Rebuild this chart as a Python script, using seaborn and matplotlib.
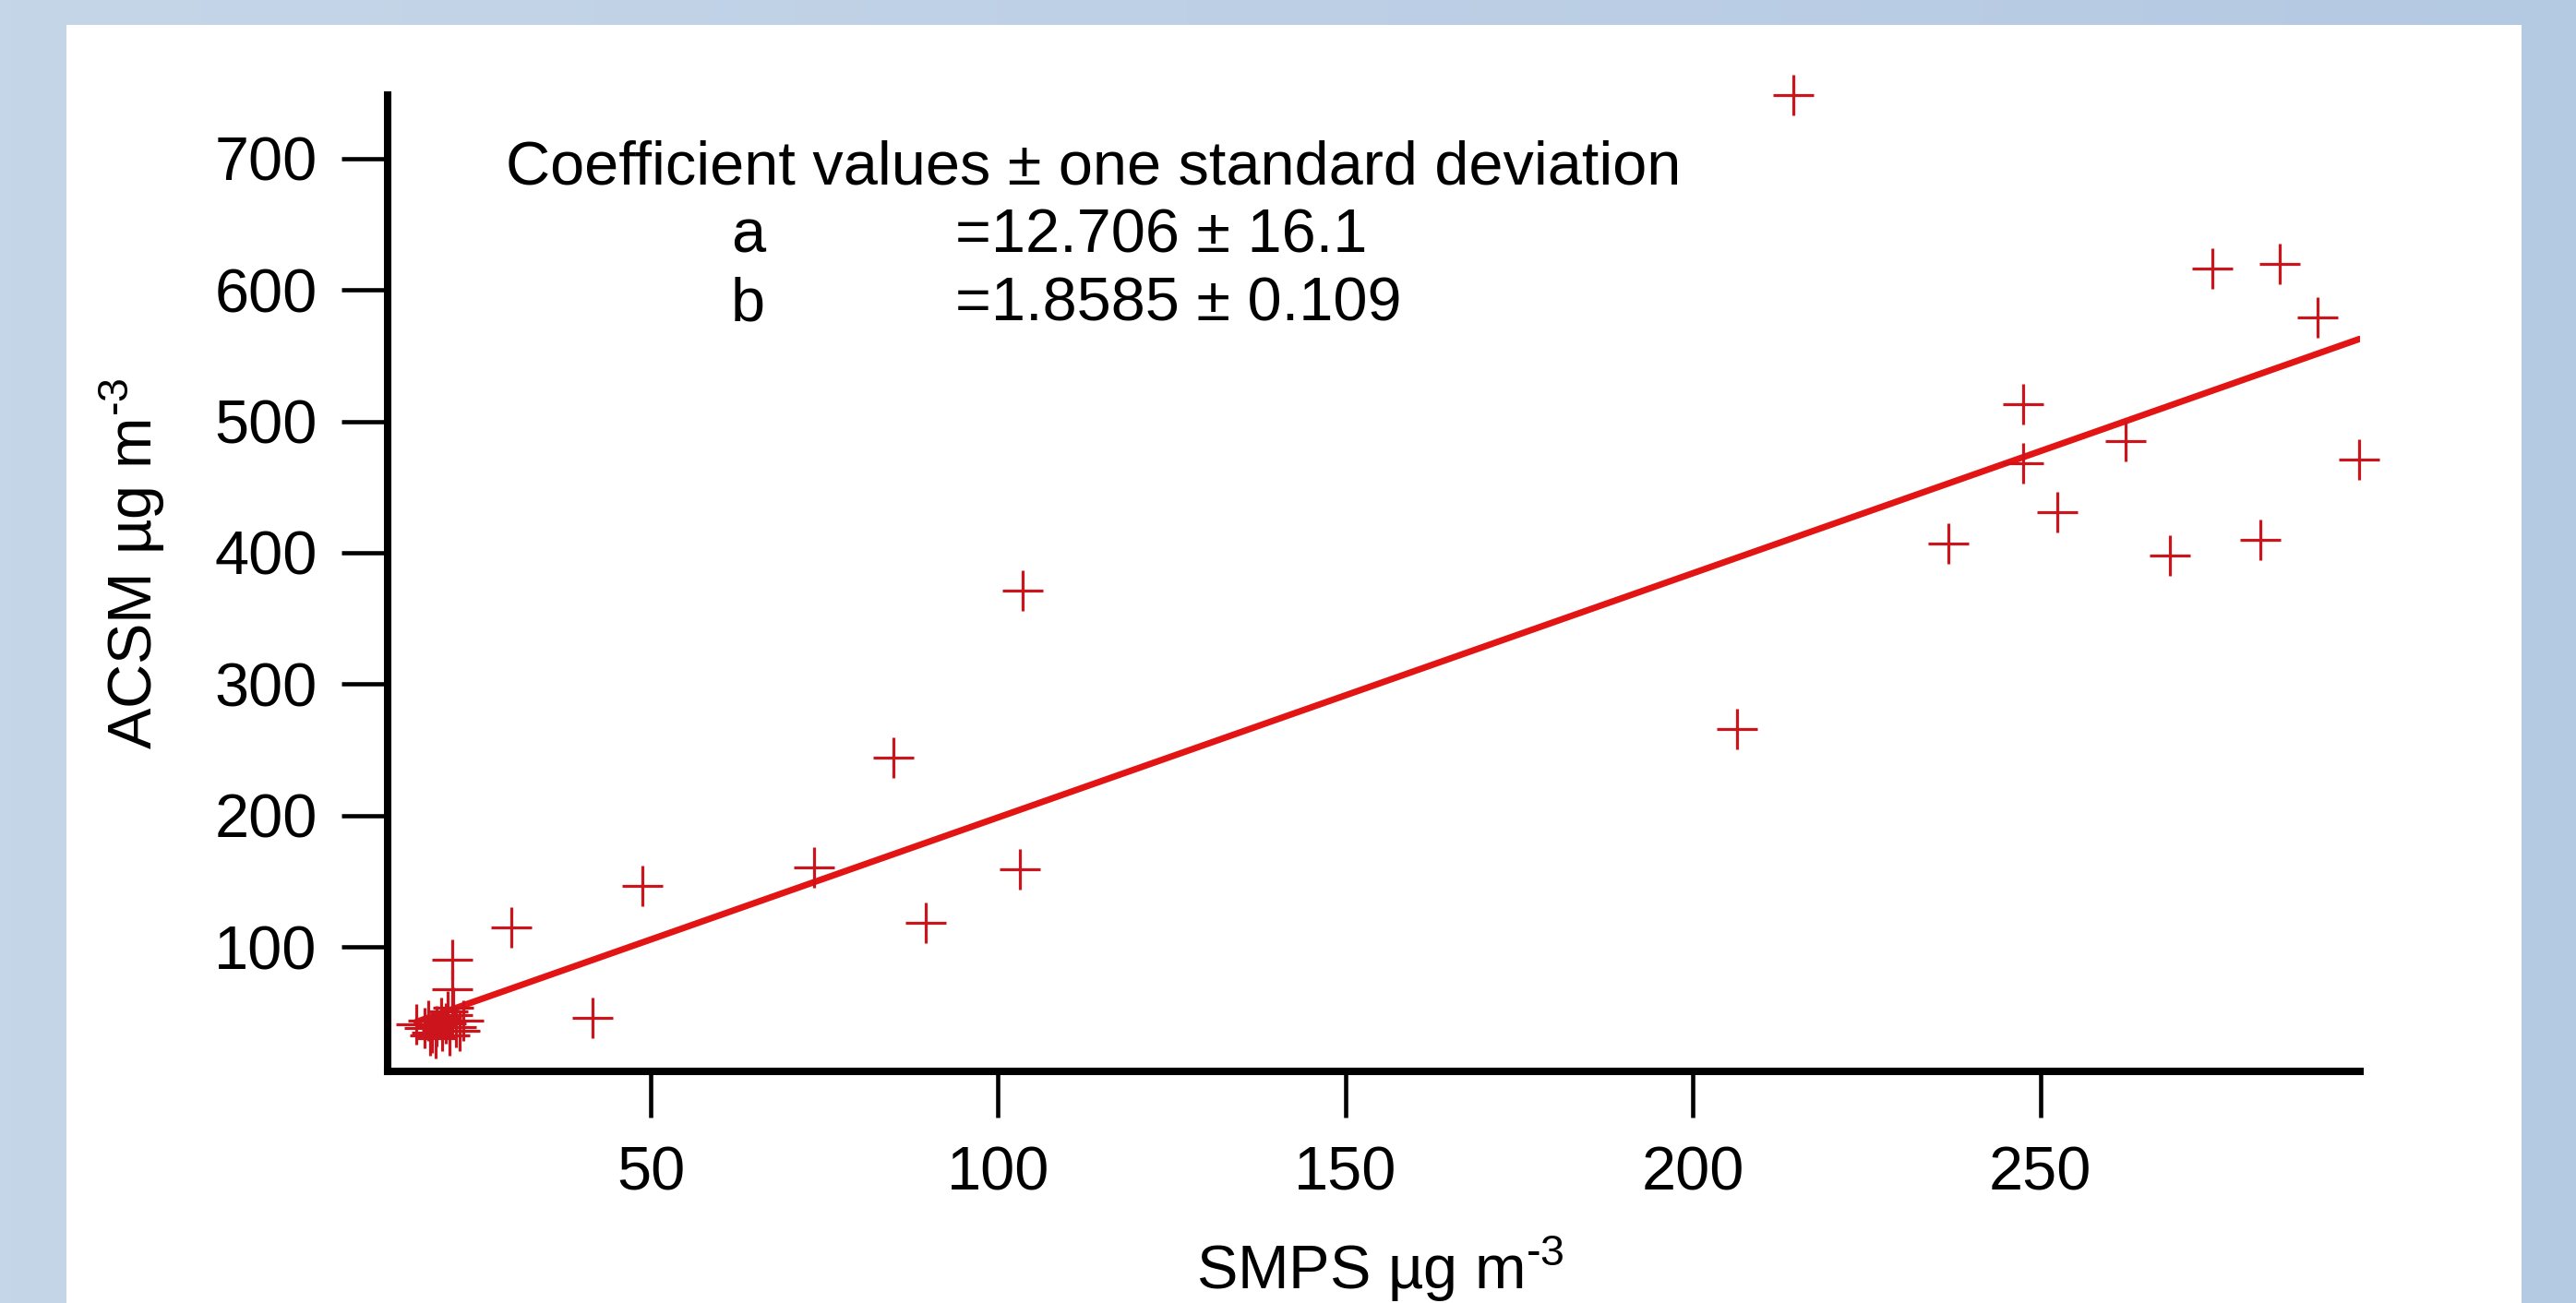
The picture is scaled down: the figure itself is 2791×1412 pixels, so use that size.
import numpy as np
import pandas as pd
import matplotlib
matplotlib.use("Agg")
import matplotlib.pyplot as plt
from matplotlib.colors import LinearSegmentedColormap
from matplotlib.patches import Rectangle
import seaborn as sns

# ---- data ----
smps = [214.5, 274.8, 284.5, 289.9, 247.5, 247.5, 262.2, 295.9, 252.4, 236.7,
        268.7, 281.7, 206.3, 103.5, 84.9, 103.1, 89.6, 73.5, 48.8, 29.9,
        41.6, 21.4, 21.4,
        16.3, 17.5, 18.0, 18.5, 19.0, 19.2, 19.8, 20.0, 20.5, 21.0, 21.4,
        22.0, 23.0, 22.5, 18.2, 20.8, 21.6]
acsm = [748.1, 616.5, 619.7, 578.7, 513.1, 468.0, 484.6, 471.2, 431.0, 406.8,
        398.2, 409.8, 265.6, 370.9, 243.9, 159.2, 118.7, 160.8, 146.3, 115.2,
        45.8, 90.6, 67.9,
        41.0, 38.0, 44.0, 35.0, 30.5, 40.0, 46.0, 36.0, 42.0, 33.0, 48.0,
        39.0, 43.9, 36.0, 33.0, 51.0, 54.0]
coef_a, coef_a_sd = 12.706, 16.1
coef_b, coef_b_sd = 1.8585, 0.109
x_ticks = [50, 100, 150, 200, 250]
y_ticks = [100, 200, 300, 400, 500, 600, 700]

df = pd.DataFrame({"SMPS": smps, "ACSM": acsm})
fit_x = np.array([min(smps), max(smps)])
fit = pd.DataFrame({"x": fit_x, "y": coef_a + coef_b * fit_x})

# ---- style ----
sns.set_theme(style="white")
plt.rcParams["font.family"] = ["Liberation Sans", "DejaVu Sans"]
plt.rcParams["mathtext.fontset"] = "custom"
plt.rcParams["mathtext.rm"] = "Liberation Sans"
plt.rcParams["mathtext.it"] = "Liberation Sans:italic"
plt.rcParams["mathtext.default"] = "regular"
plt.rcParams["axes.unicode_minus"] = False
plt.rcParams["text.color"] = "black"

W, H = 2791, 1412
fig = plt.figure(figsize=(W / 100, H / 100), dpi=100)

# background: blue gradient frame with white panel
bg = fig.add_axes([0, 0, 1, 1], zorder=-10)
grad = np.linspace(0, 1, 256).reshape(1, -1)
cmap = LinearSegmentedColormap.from_list("bg", ["#c6d6e9", "#b4c9e2"])
bg.imshow(grad, aspect="auto", cmap=cmap, extent=[0, 1, 0, 1])
bg.add_patch(Rectangle((72 / W, 0), (2732 - 72) / W, (1412 - 27) / H,
                       facecolor="white", edgecolor="none"))
bg.set_xlim(0, 1)
bg.set_ylim(0, 1)
bg.axis("off")

left, right, top, bottom = 420, 2557, 102.7, 1161
ax = fig.add_axes([left / W, (H - bottom) / H, (right - left) / W, (bottom - top) / H])
ax.set_facecolor("none")

fs = 48
sns.lineplot(data=fit, x="x", y="y", ax=ax, color="#e31414", linewidth=5.0,
             zorder=3)
sns.scatterplot(data=df, x="SMPS", y="ACSM", ax=ax, marker="+", s=31 ** 2,
                color="#cc141c", linewidth=2.3, clip_on=False, zorder=4)

ax.set_xlim(12.15, 296)
ax.set_ylim(5.3, 748.5)
ax.set_xticks(x_ticks)
ax.set_yticks(y_ticks)
ax.tick_params(axis="both", direction="out", length=36, width=3.3, color="black",
               labelsize=fs, labelcolor="black", bottom=True, left=True)
ax.tick_params(axis="x", pad=22)
ax.tick_params(axis="y", pad=19)
for s in ["top", "right"]:
    ax.spines[s].set_visible(False)
for s in ["left", "bottom"]:
    ax.spines[s].set_linewidth(5.8)
    ax.spines[s].set_color("black")

sup = "$^{\u20103}$"
ax.set_xlabel("SMPS µg m" + sup, fontsize=fs, color="black")
ax.set_ylabel("ACSM µg m" + sup, fontsize=fs, color="black")
ax.xaxis.set_label_coords(0.503, -0.167)
ax.yaxis.set_label_coords(-0.112, 0.52)

kw = dict(transform=ax.transAxes, fontsize=fs, ha="left", va="baseline", color="black")
ax.text(0.0599, 0.909, "Coefficient values ± one standard deviation", **kw)
ax.text(0.174, 0.839, "a", **kw)
ax.text(0.174, 0.769, "b", **kw)
ax.text(0.2878, 0.839, f"={coef_a} ± {coef_a_sd}", **kw)
ax.text(0.2878, 0.769, f"={coef_b} ± {coef_b_sd}", **kw)

fig.savefig("out.png", dpi=100)
